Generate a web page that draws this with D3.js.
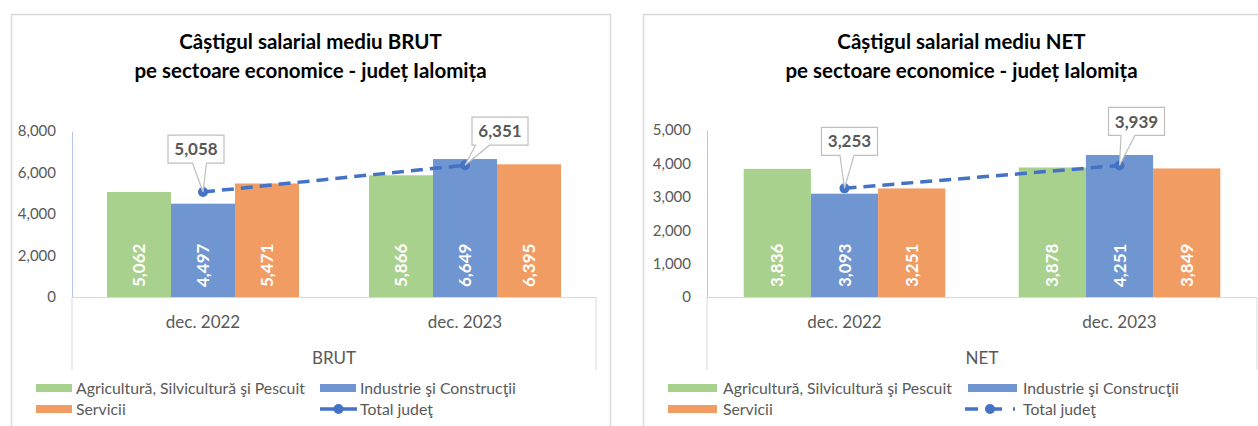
<!DOCTYPE html>
<html>
<head>
<meta charset="utf-8">
<script src="https://cdn.jsdelivr.net/npm/d3@7"></script>
<style>
  body { margin: 0; background: #fff; }
  svg { display: block; font-family: Lato, 'Open Sans', sans-serif; }
</style>
</head>
<body>
<svg id="chart"></svg>
<script>
// Data

let categories = ['dec. 2022', 'dec. 2023']
let seriesNames = ['Agricultură, Silvicultură şi Pescuit', 'Industrie şi Construcţii', 'Servicii']
let totalName = 'Total judeţ'

let brutAgri = [5062, 5866]
let brutInd = [4497, 6649]
let brutServ = [5471, 6395]
let brutTotal = [5058, 6351]
let brutTicks = [0, 2000, 4000, 6000, 8000]

let netAgri = [3836, 3878]
let netInd = [3093, 4251]
let netServ = [3251, 3849]
let netTotal = [3253, 3939]
let netTicks = [0, 1000, 2000, 3000, 4000, 5000]

let colors = ['#A9D18E', '#7096D1', '#F19C62']
let lineColor = '#4472C4'
let textGray = '#595959'

let width = 1258
let height = 426

let svg = d3.select('#chart')
    .attr('width', width)
    .attr('height', height)

let fmt = d3.format(',')

// Draw one panel

let drawPanel = (cfg) => {

    let g = svg.append('g')

    // panel frame
    g.append('rect')
        .attr('x', cfg.frame[0] + 0.5)
        .attr('y', 14.5)
        .attr('width', cfg.frame[1] - cfg.frame[0])
        .attr('height', 440)
        .attr('fill', 'none')
        .attr('stroke', '#D9D9D9')
        .attr('stroke-width', 1.5)

    // title
    let tx = (cfg.frame[0] + cfg.frame[1]) / 2
    cfg.title.forEach((t, i) => {
        g.append('text')
            .attr('x', tx).attr('y', 49 + i * 29)
            .attr('text-anchor', 'middle')
            .attr('font-weight', 'bold')
            .attr('font-size', 20.5)
            .attr('fill', '#000')
            .text(t)
    })

    // scales
    let xScale = d3.scaleBand()
        .domain(categories)
        .range(cfg.xRange)
        .paddingInner(0.267)
        .paddingOuter(0.1335)

    let xSub = d3.scaleBand()
        .domain(d3.range(cfg.series.length))
        .range([0, xScale.bandwidth()])

    let yScale = d3.scaleLinear()
        .domain([0, d3.max(cfg.ticks)])
        .range([297, cfg.yTop])

    let center = (c) => xScale(c) + xScale.bandwidth() / 2

    // y axis
    let yAxis = d3.axisLeft(yScale)
        .tickValues(cfg.ticks)
        .tickFormat(fmt)
        .tickSize(0)
        .tickSizeOuter(0)
        .tickPadding(16)

    let ya = g.append('g')
        .attr('transform', 'translate(' + cfg.xRange[0] + ', 0)')
        .call(yAxis)
    ya.select('.domain').attr('stroke', '#B4C7E7')
    ya.selectAll('text')
        .attr('font-family', 'Lato, sans-serif')
        .attr('font-size', 15)
        .attr('fill', textGray)

    // x axis
    let xAxis = d3.axisBottom(xScale)
        .tickSize(0)
        .tickSizeOuter(0)

    let xa = g.append('g')
        .attr('transform', 'translate(0, 297)')
        .call(xAxis)
    xa.select('.domain').attr('stroke', '#D9D9D9')
    xa.selectAll('text')
        .attr('font-family', 'Lato, sans-serif')
        .attr('font-size', 17)
        .attr('fill', textGray)
        .attr('y', 31)
        .attr('dy', 0)

    cfg.xRange.forEach((x) => {
        g.append('line')
            .attr('x1', x).attr('x2', x)
            .attr('y1', 297).attr('y2', 370)
            .attr('stroke', '#D9D9D9')
    })

    g.append('text')
        .attr('x', (cfg.xRange[0] + cfg.xRange[1]) / 2)
        .attr('y', 364)
        .attr('text-anchor', 'middle')
        .attr('font-size', 17)
        .attr('fill', textGray)
        .text(cfg.group)

    // bars
    cfg.series.forEach((vals, si) => {
        g.selectAll('.bar' + si)
            .data(vals)
            .enter()
            .append('rect')
            .attr('x', (d, i) => xScale(categories[i]) + xSub(si))
            .attr('y', (d) => yScale(d))
            .attr('width', xSub.bandwidth())
            .attr('height', (d) => yScale(0) - yScale(d))
            .attr('fill', colors[si])

        g.selectAll('.lab' + si)
            .data(vals)
            .enter()
            .append('text')
            .attr('transform', (d, i) => {
                let cx = xScale(categories[i]) + xSub(si) + xSub.bandwidth() / 2
                return 'translate(' + cx + ',' + (yScale(0) - 10) + ') rotate(-90)'
            })
            .attr('dy', '0.36em')
            .attr('text-anchor', 'start')
            .attr('font-weight', 'bold')
            .attr('font-size', 17)
            .attr('fill', '#fff')
            .text((d) => fmt(d))
    })

    // total line
    let line = d3.line()
        .x((d, i) => center(categories[i]))
        .y((d) => yScale(d))

    g.append('path')
        .datum(cfg.total)
        .attr('d', line)
        .attr('fill', 'none')
        .attr('stroke', lineColor)
        .attr('stroke-width', 3.5)
        .attr('stroke-dasharray', '12,7')

    g.selectAll('.dot')
        .data(cfg.total)
        .enter()
        .append('circle')
        .attr('cx', (d, i) => center(categories[i]))
        .attr('cy', (d) => yScale(d))
        .attr('r', 5)
        .attr('fill', lineColor)

    // callouts
    cfg.total.forEach((v, i) => {
        let px = center(categories[i])
        let py = yScale(v)
        let off = cfg.callouts[i]
        let cx = px + off[0]
        let bw = 56
        let bh = 28
        let x0 = cx - bw / 2
        let x1 = cx + bw / 2
        let y1 = py + off[1]
        let y0 = y1 - bh
        let m = Math.max(x0 + 8, Math.min(x1 - 8, (px + cx) / 2))
        let path = 'M' + x0 + ',' + y0 + 'H' + x1 + 'V' + y1 + 'H' + (m + 7) +
            'L' + px + ',' + py + 'L' + (m - 7) + ',' + y1 + 'H' + x0 + 'Z'
        g.append('path')
            .attr('d', path)
            .attr('fill', '#fff')
            .attr('stroke', '#BFBFBF')
            .attr('stroke-width', 1.2)
        g.append('text')
            .attr('x', cx)
            .attr('y', y0 + bh / 2)
            .attr('dy', '0.36em')
            .attr('text-anchor', 'middle')
            .attr('font-weight', 'bold')
            .attr('font-size', 17)
            .attr('fill', textGray)
            .text(fmt(v))
    })

    // legend
    let lg = cfg.legend
    let items = [
        { name: seriesNames[0], color: colors[0], x: lg.col[0], y: 388 },
        { name: seriesNames[1], color: colors[1], x: lg.col[1], y: 388 },
        { name: seriesNames[2], color: colors[2], x: lg.col[0], y: 409 }
    ]
    items.forEach((it) => {
        g.append('rect')
            .attr('x', it.x)
            .attr('y', it.y - 4)
            .attr('width', lg.sw)
            .attr('height', 8)
            .attr('fill', it.color)
        g.append('text')
            .attr('x', it.x + lg.sw + lg.gap)
            .attr('y', it.y)
            .attr('dy', '0.36em')
            .attr('font-size', 15.8)
            .attr('fill', textGray)
            .text(it.name)
    })

    let lx = lg.col[1] - lg.lineShift
    let lw = lg.lineW
    g.append('line')
        .attr('x1', lx).attr('x2', lx + lw)
        .attr('y1', 409).attr('y2', 409)
        .attr('stroke', lineColor)
        .attr('stroke-width', 3.5)
        .attr('stroke-dasharray', lg.dashed ? '13,11' : null)
    g.append('circle')
        .attr('cx', lx + lw / 2)
        .attr('cy', 409)
        .attr('r', 5)
        .attr('fill', lineColor)
    g.append('text')
        .attr('x', lg.col[1] + lg.sw + lg.gap)
        .attr('y', 409)
        .attr('dy', '0.36em')
        .attr('font-size', 15.8)
        .attr('fill', textGray)
        .text(totalName)
}

drawPanel({
    frame: [11, 610],
    title: ['Câștigul salarial mediu BRUT', 'pe sectoare economice - județ Ialomița'],
    group: 'BRUT',
    xRange: [72, 596],
    yTop: 131,
    ticks: brutTicks,
    series: [brutAgri, brutInd, brutServ],
    total: brutTotal,
    callouts: [[-7, -29], [35, -20]],
    legend: { col: [36, 320], sw: 36, gap: 4, lineShift: 0, lineW: 37, dashed: false }
})

drawPanel({
    frame: [643, 1280],
    title: ['Câștigul salarial mediu NET', 'pe sectoare economice - județ Ialomița'],
    group: 'NET',
    xRange: [707, 1257],
    yTop: 130,
    ticks: netTicks,
    series: [netAgri, netInd, netServ],
    total: netTotal,
    callouts: [[5, -33], [17, -30]],
    legend: { col: [668, 968], sw: 49, gap: 6, lineShift: 3, lineW: 50, dashed: true }
})
</script>
</body>
</html>
